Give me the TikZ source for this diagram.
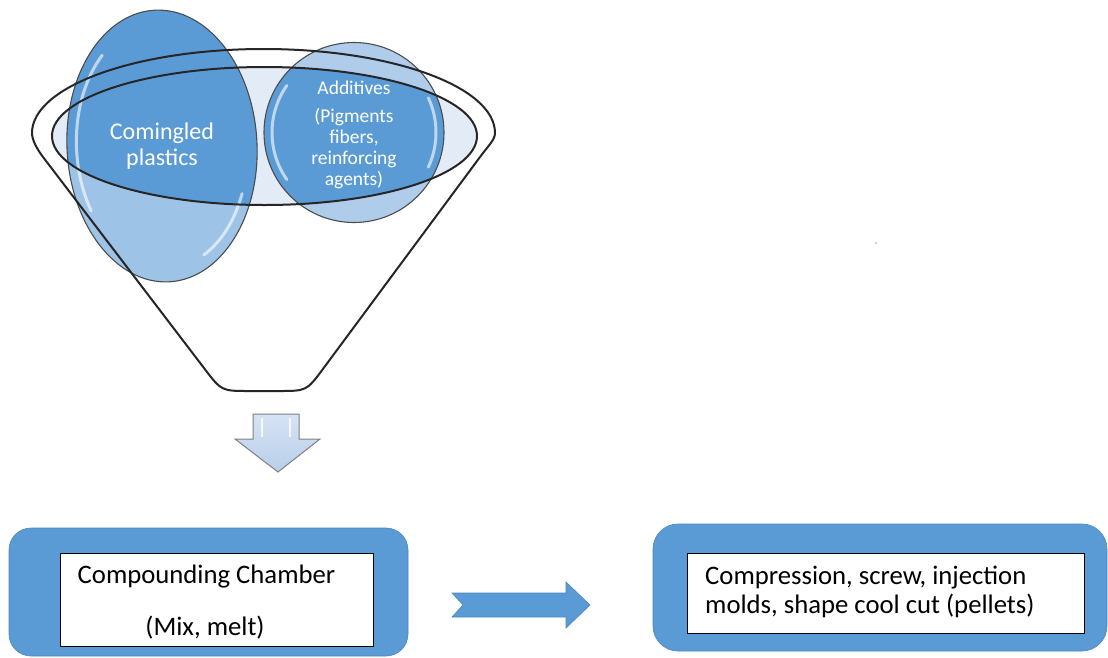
\documentclass[tikz,border=0pt]{standalone}
\usepackage{fontspec}
\setmainfont{Carlito}
\definecolor{blueM}{HTML}{5B9BD5}
\definecolor{blueEdge}{HTML}{4A86C0}
\definecolor{blueL}{HTML}{9DC3E6}
\definecolor{blueLL}{HTML}{AFCDEB}
\definecolor{innerFill}{HTML}{E3EBF6}
\definecolor{arrowTop}{HTML}{D6E4F4}
\definecolor{arrowBot}{HTML}{B8CEEA}
\definecolor{lineDark}{HTML}{262626}
\tikzset{
  rimline/.style={draw=lineDark, line width=2pt},
  circline/.style={draw=black!70, line width=1.1pt},
  hl/.style={draw=white, line width=3pt, opacity=0.6, line cap=round},
  outerbox/.style={fill=blueM, draw=blueEdge, line width=0.6pt, rounded corners=22pt},
  innerbox/.style={fill=white, draw=black, line width=1pt},
  boxtext/.style={font=\fontsize{26.7}{29}\selectfont, inner sep=0pt},
  circtext/.style={text=white, align=center, inner sep=0pt},
  blockarrow/.style={fill=blueM, draw=blueEdge, line width=0.6pt},
}
\begin{document}
\begin{tikzpicture}[x=1pt,y=-1pt]
\clip (0,0) rectangle (1108,657);
\fill[white] (0,0) rectangle (1108,657);

% inner rim fill
\fill[innerFill] (264.5,136) ellipse [x radius=212.5, y radius=69];

% light bodies of the two inputs
\fill[blueL, rotate around={3:(162,146)}] (162,146) ellipse [x radius=95, y radius=136];
\fill[blueLL] (354,132.5) circle (90);

% darker parts inside the rim
\begin{scope}
  \clip (264.5,136) ellipse [x radius=212.5, y radius=69];
  \fill[blueM, rotate around={3:(162,146)}] (162,146) ellipse [x radius=95, y radius=136];
  \fill[blueM] (354,132.5) circle (90);
\end{scope}
\begin{scope}
  \clip (0,0) rectangle (262,136);
  \fill[blueM, rotate around={3:(162,146)}] (162,146) ellipse [x radius=95, y radius=136];
\end{scope}

% highlights
\begin{scope}[shift={(162,146)}, rotate=3]
  \draw[hl] ({0.9*95*cos(150)},{0.9*136*sin(150)}) arc[start angle=150, end angle=230, x radius=85.5, y radius=122.4];
  \draw[hl] ({0.9*95*cos(25)},{0.9*136*sin(25)}) arc[start angle=25, end angle=65, x radius=85.5, y radius=122.4];
\end{scope}
\begin{scope}[shift={(354,132.5)}]
  \draw[hl] ({82*cos(145)},{82*sin(145)}) arc[start angle=145, end angle=215, radius=82];
  \draw[hl] ({82*cos(-25)},{82*sin(-25)}) arc[start angle=-25, end angle=25, radius=82];
\end{scope}

% outlines of the inputs
\draw[circline, rotate around={3:(162,146)}] (162,146) ellipse [x radius=95, y radius=136];
\draw[circline] (354,132.5) circle (90);

% funnel
\draw[rimline] (43,157) -- (204.5,368.7) .. controls (221.5,391) .. (249.5,391)
  -- (278.6,391) .. controls (306.6,391) .. (323.3,368.5) -- (480,157)
  .. controls (488,146) and (495,140) .. (495,133)
  .. controls (495,86.6) and (391.4,49) .. (263.5,49)
  .. controls (135.6,49) and (32,86.6) .. (32,133)
  .. controls (32,140) and (37,149) .. cycle;
\draw[rimline] (264.5,136) ellipse [x radius=212.5, y radius=69];

% texts in the inputs
\node[circtext, font=\fontsize{24}{26}\selectfont] (comingled) at (162,146) {Comingled\\plastics};
\node[circtext, font=\fontsize{19.5}{21}\selectfont] (additives) at (354,88) {Additives};
\node[circtext, font=\fontsize{19.5}{21}\selectfont] (addlist) at (354,149) {(Pigments\\fibers,\\reinforcing\\agents)};

% down arrow
\draw[draw=black!50, line width=1pt, top color=arrowTop, bottom color=arrowBot]
  (253,414) -- (299,414) -- (299,439) -- (320,439) -- (278,472) -- (235,439) -- (253,439) -- cycle;
\draw[white, line width=2pt, opacity=0.8] (262,418) -- (262,437);
\draw[white, line width=2pt, opacity=0.8] (290,418) -- (290,437);

% bottom left box
\draw[outerbox] (9,528) rectangle (408,656);
\node[innerbox, minimum width=313pt, minimum height=93pt, inner sep=0pt] (chamber) at (216.5,599.5) {};
\node[boxtext] (chambertitle) at (206.5,577) {Compounding Chamber};
\node[boxtext] (chambersub) at (205,628) {(Mix, melt)};

% right arrow
\draw[blockarrow] (452,593) -- (566,593) -- (566,582) -- (590,605) -- (566,628) -- (566,617) -- (452,617) -- (463,605) -- cycle;

% bottom right box
\draw[outerbox, rounded corners=25pt] (653,524) rectangle (1107,651);
\node[innerbox, minimum width=397pt, minimum height=80pt, inner sep=0pt] (molds) at (885.5,593) {};
\node[boxtext, anchor=west, align=left] (moldstext) at (705,592) {Compression, screw, injection\\molds, shape cool cut (pellets)};

% stray dot
\fill[black!35] (876,243) circle (0.9);
\end{tikzpicture}
\end{document}
